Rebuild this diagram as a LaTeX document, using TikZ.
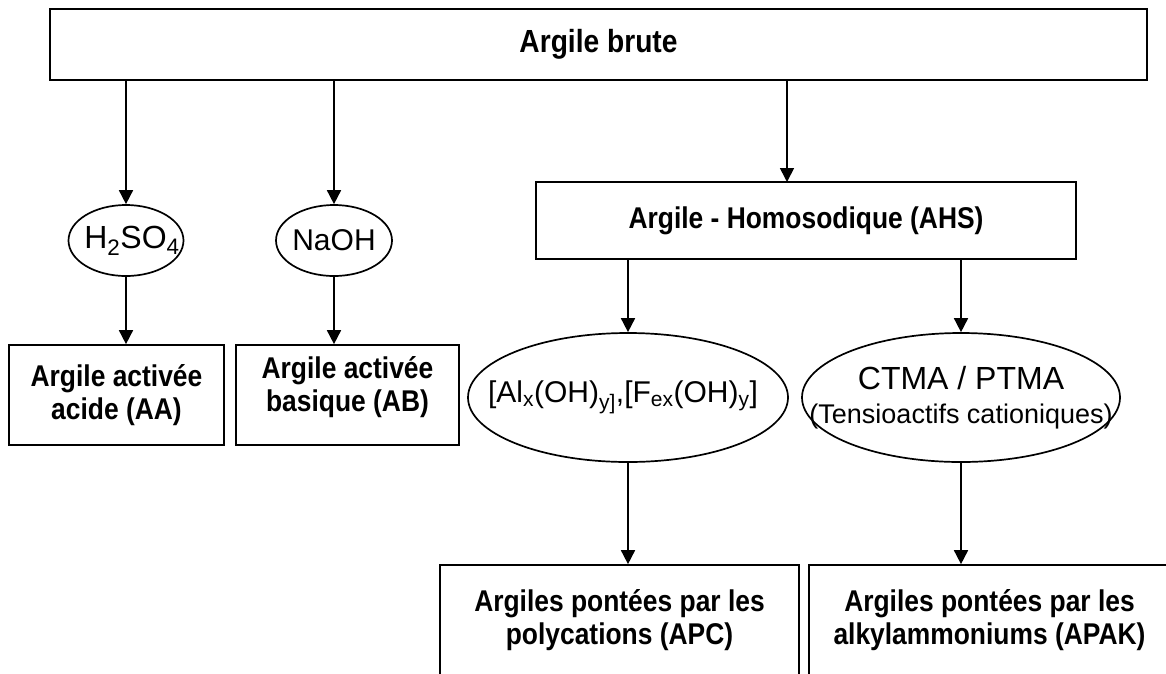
\documentclass[tikz,border=0pt]{standalone}
\usepackage{fontspec}
\setmainfont{Liberation Sans}[BoldFeatures={FakeStretch=0.88}]
\usetikzlibrary{shapes.geometric,arrows.meta}

\begin{document}
\begin{tikzpicture}[x=1pt,y=-1pt,line width=1.7pt,>={Triangle[length=14pt,width=14pt]}]
            \useasboundingbox (0,0) rectangle (1166,673);
            \clip (0,0) rectangle (1166,673);

            \begin{scope}[every node/.style={rectangle,draw,align=center,inner sep=0pt,font=\bfseries\fontsize{30}{33}\selectfont}]
                \node[minimum width=1097pt,minimum height=71pt,font=\bfseries\fontsize{32}{36}\selectfont] (brute) at (598.5,44.5) {Argile brute};

                \node[minimum width=540pt,minimum height=77pt] (ahs) at (806,220.5) {Argile - Homosodique (AHS)};

                \node[minimum width=215pt,minimum height=100pt] (aa) at (116.5,395) {Argile activée\\acide (AA)};
                \node[minimum width=223pt,minimum height=100pt,text depth=23pt] (ab) at (347.5,395) {Argile activée\\basique (AB)};

                \node[minimum width=359pt,minimum height=111pt] (apc) at (619.5,620.5) {Argiles pontées par les\\polycations (APC)};
                \node[minimum width=361pt,minimum height=111pt] (apak) at (989.5,620.5) {Argiles pontées par les\\alkylammoniums (APAK)};
            \end{scope}

            \begin{scope}[every node/.style={ellipse,draw,align=center,inner sep=0pt,font=\fontsize{29}{34}\selectfont}]
                \node[minimum width=115pt,minimum height=71pt,font=\fontsize{32}{36}\selectfont] (acide) at (126,240.5) {\makebox[0pt]{\hspace{12pt}H\textsubscript{2}SO\textsubscript{4}}};
                \node[minimum width=116pt,minimum height=71pt,font=\fontsize{30}{34}\selectfont] (base) at (334,240.5) {\makebox[0pt]{NaOH}};

                \node[minimum width=320pt,minimum height=129pt,font=\fontsize{30}{34}\selectfont] (poly) at (628,397.5) {\makebox[0pt]{[Al\textsubscript{x}(OH)\textsubscript{y]},[F\textsubscript{ex}(OH)\textsubscript{y}]\hspace{10pt}}};
                \node[minimum width=318pt,minimum height=129pt] (tensio) at (961,397.5) {\makebox[0pt]{\fontsize{32}{36}\selectfont CTMA / PTMA}\\\makebox[0pt]{\fontsize{27}{32}\selectfont (Tensioactifs cationiques)}};
            \end{scope}

            \coordinate (ahsin) at (787,182);

            \begin{scope}
                \path [->] (brute.south -| acide) edge (acide.north);
                \path [->] (brute.south -| base) edge (base.north);
                \path [->] (brute.south -| ahsin) edge (ahsin);

                \path [->] (acide.south) edge (acide.south |- aa.north);
                \path [->] (base.south) edge (base.south |- ab.north);

                \path [->] (ahs.south -| poly) edge (poly.north);
                \path [->] (ahs.south -| tensio) edge (tensio.north);

                \path [->] (poly.south) edge (poly.south |- apc.north);
                \path [->] (tensio.south) edge (tensio.south |- apak.north);
            \end{scope}
\end{tikzpicture}
\end{document}
